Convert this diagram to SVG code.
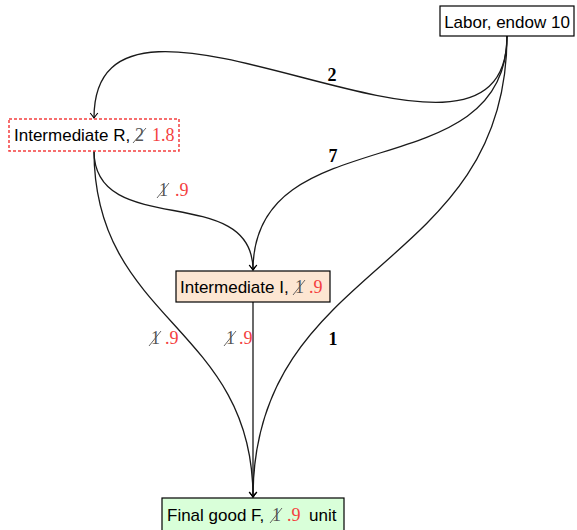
<svg xmlns="http://www.w3.org/2000/svg" width="577" height="530" viewBox="0 0 577 530">
<defs>
<marker id="arr" markerWidth="12" markerHeight="12" refX="0" refY="0" viewBox="-6 -6 12 12" orient="auto" markerUnits="userSpaceOnUse">
<path d="M-5,-3.8 Q-1.5,-1 0,0 Q-1.5,1 -5,3.8" fill="none" stroke="#000" stroke-width="1.1"/>
</marker>
<style>
.edge{fill:none;stroke:#1a1a1a;stroke-width:1.3;marker-end:url(#arr)}
.lbl{font-family:"Liberation Sans",Arial,sans-serif;font-size:17px;fill:#000}
.num{font-family:"Liberation Serif","Times New Roman",serif;font-size:18px}
.red{fill:#f43f3f}
.gray{fill:#555}
.cx{stroke:#555;stroke-width:0.9}
.w{font-family:"Liberation Serif","Times New Roman",serif;font-weight:bold;font-size:18px;text-anchor:middle;fill:#000}
.box{stroke:#000;stroke-width:1.2}
</style>
</defs>
<g id="connectors">
<path class="edge" d="M507,36 C507,226 94,-72 94,118"/>
<path class="edge" d="M507,36 C507,191 253,115 253,270"/>
<path class="edge" d="M507,36 C507,273 253,260 253,497"/>
<path class="edge" d="M94,151 C94,240 253,181 253,270"/>
<path class="edge" d="M94,151 C94,322 253,326 253,497"/>
<path class="edge" d="M253,302 L253,497"/>
<text class="w" x="332" y="81">2</text>
<text class="w" x="333" y="162">7</text>
<text class="w" x="333" y="345">1</text>
<g id="lbl-RI">
<text class="num gray" x="159" y="196">1</text>
<line class="cx" x1="157" y1="198" x2="169" y2="183"/>
<text class="num red" x="175" y="196">.9</text>
</g>
<g id="lbl-RF">
<text class="num gray" x="151" y="344">1</text>
<line class="cx" x1="149" y1="346" x2="161" y2="331"/>
<text class="num red" x="165" y="344">.9</text>
</g>
<g id="lbl-IF">
<text class="num gray" x="226" y="344">1</text>
<line class="cx" x1="224" y1="346" x2="236" y2="331"/>
<text class="num red" x="239" y="344">.9</text>
</g>
</g>
<g id="labor">
<rect class="box" x="440" y="6" width="134" height="30" fill="#fff"/>
<text class="lbl" x="507" y="28" text-anchor="middle">Labor, endow 10</text>
</g>
<g id="intermediate-r">
<rect x="9" y="119" width="170" height="32" fill="#fff" stroke="#f43f3f" stroke-width="1.5" stroke-dasharray="3 2"/>
<text class="lbl" x="14" y="141">Intermediate R,</text>
<text class="num gray" x="135" y="141">2</text>
<line class="cx" x1="133" y1="143" x2="146" y2="128"/>
<text class="num red" x="152" y="141">1.8</text>
</g>
<g id="intermediate-i">
<rect class="box" x="176" y="271" width="154" height="31" fill="#fde6d2"/>
<text class="lbl" x="180" y="293">Intermediate I,</text>
<text class="num gray" x="295" y="293">1</text>
<line class="cx" x1="293" y1="295" x2="305" y2="280"/>
<text class="num red" x="309" y="293">.9</text>
</g>
<g id="final-f">
<rect class="box" x="162" y="498" width="182" height="40" fill="#d9ffd9"/>
<text class="lbl" x="167" y="521">Final good F,</text>
<text class="num gray" x="272" y="521">1</text>
<line class="cx" x1="270" y1="523" x2="282" y2="508"/>
<text class="num red" x="287" y="521">.9</text>
<text class="lbl" x="309" y="521">unit</text>
</g>
</svg>
